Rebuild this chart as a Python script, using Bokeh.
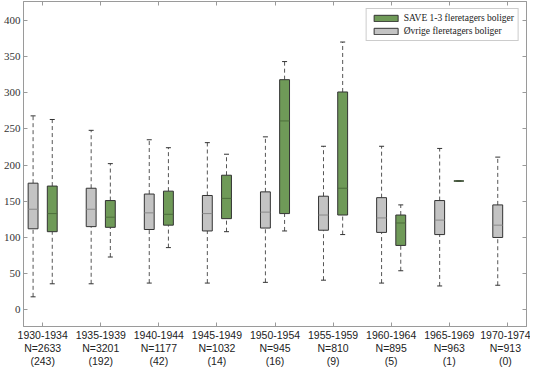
from bokeh.plotting import figure
from bokeh.models import FixedTicker, LinearAxis, Range1d, ColumnDataSource, Legend, LegendItem, Label
from bokeh.embed import file_html
from bokeh.resources import INLINE

# ---- data ----
periods = ["1930-1934", "1935-1939", "1940-1944", "1945-1949", "1950-1954",
           "1955-1959", "1960-1964", "1965-1969", "1970-1974"]
n_total = [2633, 3201, 1177, 1032, 945, 810, 895, 963, 913]
n_save = [243, 192, 42, 14, 16, 9, 5, 1, 0]

# Øvrige fleretagers boliger (grey)
other_lo = [18, 36, 37, 37, 38, 41, 37, 33, 34]
other_q1 = [112, 115, 111, 109, 113, 110, 107, 104, 100]
other_med = [139, 139, 134, 133, 135, 131, 127, 124, 117]
other_q3 = [175, 168, 160, 158, 163, 157, 155, 151, 145]
other_hi = [268, 248, 235, 231, 239, 226, 226, 223, 211]

# SAVE 1-3 fleretagers boliger (green); no data for 1970-1974
save_lo = [36, 73, 86, 108, 109, 104, 54, 178, None]
save_q1 = [108, 114, 117, 126, 133, 131, 89, 178, None]
save_med = [133, 128, 132, 154, 261, 168, 120, 178, None]
save_q3 = [171, 151, 164, 186, 318, 301, 131, 178, None]
save_hi = [263, 202, 224, 215, 343, 370, 145, 178, None]

y_ticks = [0, 50, 100, 150, 200, 250, 300, 350, 400]
x_title = "Opførelsesår"

GREY = "#c3c3c3"
GREEN = "#6f9a58"
OFFSET = 0.165
BOXW = 0.17
YMIN, YMAX = -23, 426

p = figure(width=530, height=369, output_backend="svg", toolbar_location=None,
           x_range=Range1d(0.67, 9.33), y_range=Range1d(YMIN, YMAX),
           min_border_top=1, min_border_right=4, min_border_left=0, min_border_bottom=0)
p.xgrid.visible = False
p.ygrid.visible = False
p.outline_line_color = "#9a9a9a"
p.background_fill_color = "white"


def make_source(lo, q1, med, q3, hi, shift):
    xs, l, a, m, b, h = [], [], [], [], [], []
    for i in range(len(periods)):
        if q1[i] is None:
            continue
        xs.append(i + 1 + shift)
        l.append(lo[i]); a.append(q1[i]); m.append(med[i]); b.append(q3[i]); h.append(hi[i])
    return ColumnDataSource(dict(x=xs, lo=l, q1=a, med=m, q3=b, hi=h,
                                 x0=[v - BOXW / 2 for v in xs], x1=[v + BOXW / 2 for v in xs]))


renderers = {}
for name, data, shift, color, medcol in [
        ("other", (other_lo, other_q1, other_med, other_q3, other_hi), -OFFSET, GREY, "#8a8a8a"),
        ("save", (save_lo, save_q1, save_med, save_q3, save_hi), OFFSET, GREEN, "#4d6e3c")]:
    src = make_source(*data, shift)
    p.segment(x0="x", y0="q3", x1="x", y1="hi", source=src, line_color="#555555",
              line_dash="4 3", line_width=1)
    p.segment(x0="x", y0="lo", x1="x", y1="q1", source=src, line_color="#555555",
              line_dash="4 3", line_width=1)
    p.scatter(x="x", y="hi", source=src, marker="dash", size=5, line_color="#333333", line_width=1)
    p.scatter(x="x", y="lo", source=src, marker="dash", size=5, line_color="#333333", line_width=1)
    r = p.vbar(x="x", width=BOXW, bottom="q1", top="q3", source=src, fill_color=color,
               line_color="#333333", line_width=1)
    p.segment(x0="x0", y0="med", x1="x1", y1="med", source=src, line_color=medcol, line_width=1)
    renderers[name] = r

legend = Legend(items=[LegendItem(label="SAVE 1-3 fleretagers boliger", renderers=[renderers["save"]]),
                       LegendItem(label="Øvrige fleretagers boliger", renderers=[renderers["other"]])],
                location="top_right")
legend.label_text_font = "Liberation Serif"
legend.label_text_font_size = "9.5px"
legend.label_text_color = "#222222"
legend.label_height = 9
legend.label_standoff = 3
legend.glyph_width = 30
legend.glyph_height = 8
legend.spacing = 3
legend.padding = 4
legend.margin = 7
legend.border_line_color = "#9a9a9a"
legend.background_fill_alpha = 1
p.add_layout(legend)

# axes
xlabels = {i + 1: f"{periods[i]}\nN={n_total[i]}\n({n_save[i]})" for i in range(len(periods))}
xt = FixedTicker(ticks=list(range(1, len(periods) + 1)))
yt = FixedTicker(ticks=y_ticks)

xa = p.xaxis[0]
xa.ticker = xt
xa.major_label_overrides = xlabels
xa.major_label_text_font = "Liberation Sans"
xa.major_label_text_font_size = "10.5px"
xa.major_label_text_color = "#222222"
xa.major_label_text_line_height = 1.1
xa.major_label_standoff = 2

ya = p.yaxis[0]
ya.ticker = yt
ya.major_label_text_font = "Liberation Serif"
ya.major_label_text_font_size = "11px"
ya.major_label_text_color = "#333333"
ya.major_label_standoff = 3

for ax in (xa, ya):
    ax.major_tick_in = 4
    ax.major_tick_out = 0
    ax.minor_tick_line_color = None
    ax.axis_line_color = "#9a9a9a"
    ax.major_tick_line_color = "#9a9a9a"

top = LinearAxis(ticker=xt, major_label_text_font_size="0px", major_tick_in=4, major_tick_out=0,
                 minor_tick_line_color=None, axis_line_color="#9a9a9a", major_tick_line_color="#9a9a9a",
                 major_label_standoff=0)
right = LinearAxis(ticker=yt, major_label_text_font_size="0px", major_tick_in=4, major_tick_out=0,
                   minor_tick_line_color=None, axis_line_color="#9a9a9a", major_tick_line_color="#9a9a9a",
                   major_label_standoff=0)
top.major_label_text_color = None
right.major_label_text_color = None
p.add_layout(top, "above")
p.add_layout(right, "right")

# x-axis title placed below the tick labels
title = Label(x=5, y=-62, x_units="data", y_units="data", text=x_title,
              text_font="Liberation Serif", text_font_size="11px", text_color="#222222",
              text_align="center", text_baseline="middle")
p.add_layout(title)

open("out.html", "w").write(file_html(p, INLINE))
